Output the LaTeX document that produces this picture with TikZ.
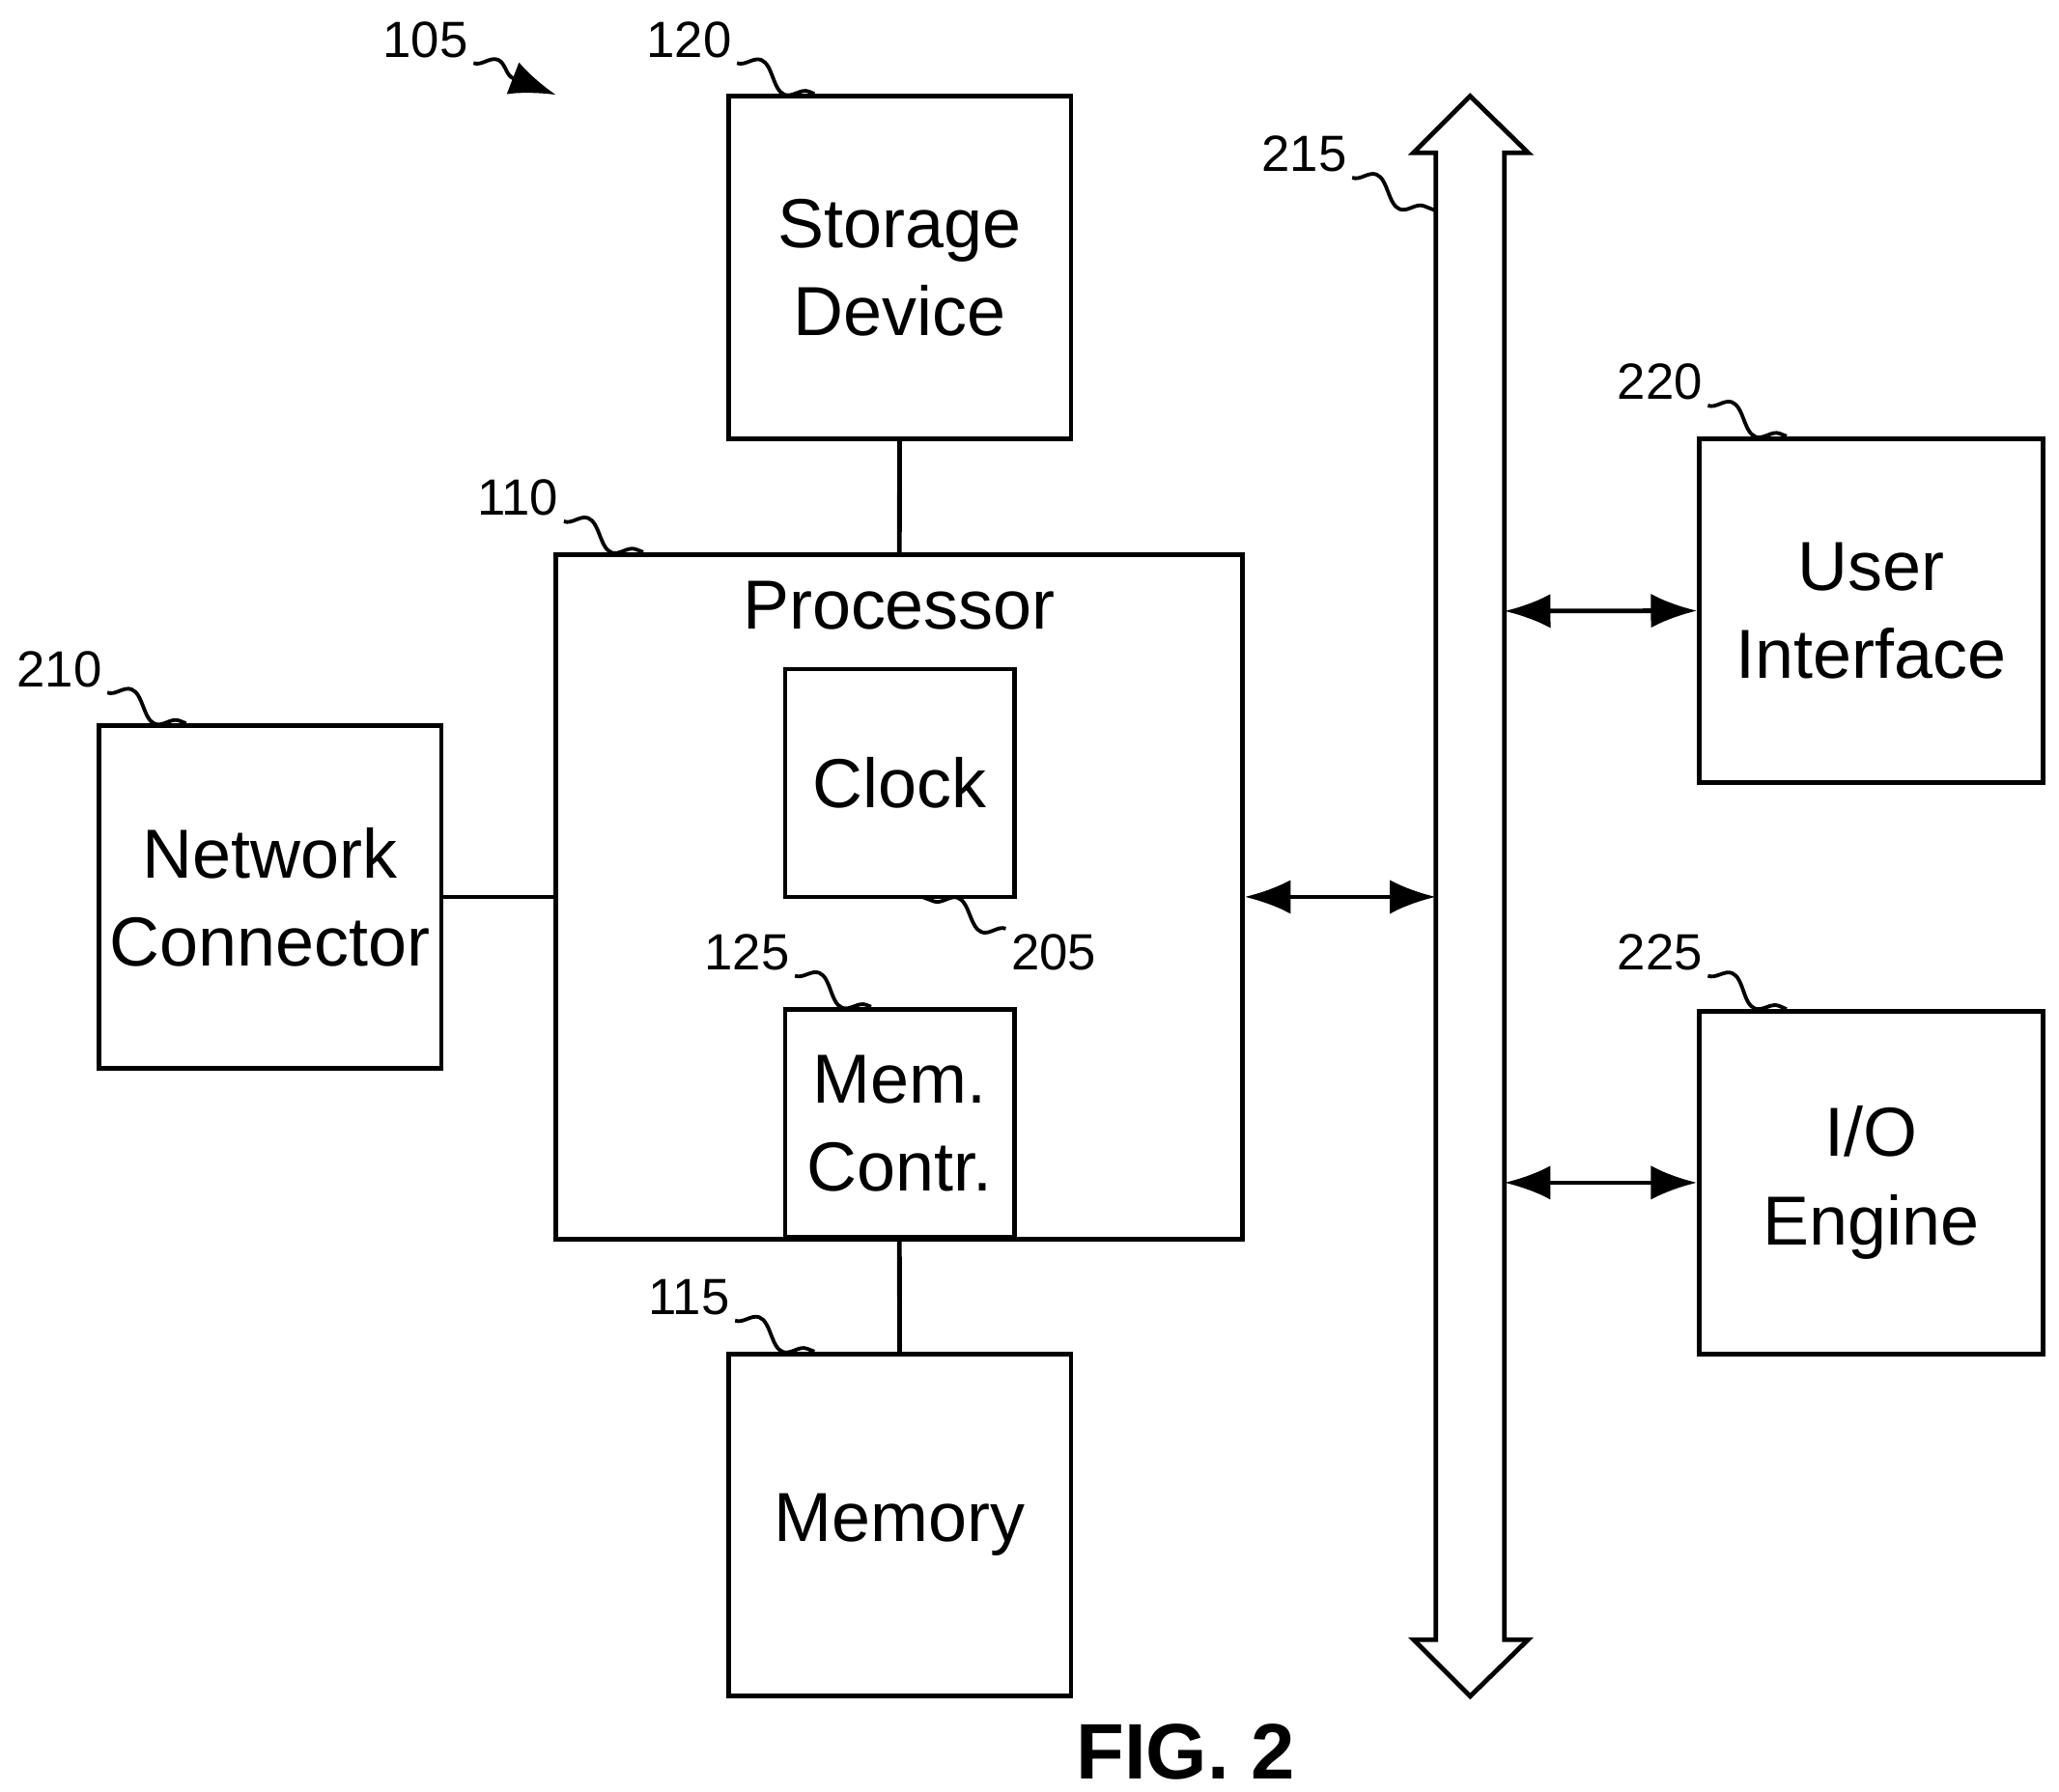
\documentclass[tikz,border=0pt]{standalone}
\usepackage{fontspec}
\setmainfont{Liberation Sans}
\usetikzlibrary{positioning, arrows.meta, calc, decorations.pathmorphing}
\tikzset{
  block/.style={draw, line width=1pt, align=center, inner sep=1pt, font=\fontsize{15}{19}\selectfont},
  refnum/.style={font=\fontsize{11}{13}\selectfont, inner sep=1pt},
  lead/.style={line width=0.8pt, decorate, decoration={snake, amplitude=0.9mm, segment length=5.2mm}},
  link/.style={line width=1pt},
  dlink/.style={line width=1pt, {Latex[length=3.5mm,width=2.6mm]}-{Latex[length=3.5mm,width=2.6mm]}}
}
\begin{document}
\begin{tikzpicture}
\useasboundingbox (0,0) rectangle (15.63,-13.6);

% main blocks
\node (proc) [block, minimum width=5.21cm, minimum height=5.2cm] at (6.825,-6.81) {};
\node (procTitle) [font=\fontsize{15}{19}\selectfont, below=0.1cm of proc.north] {Processor};
\node (storage) [block, minimum width=2.6cm, minimum height=2.6cm] at (6.83,-2.03) {Storage\\Device};
\node (clock) [block, minimum width=1.74cm, minimum height=1.73cm] at (6.83,-5.945) {Clock};
\node (memctl) [block, minimum width=1.74cm, minimum height=1.73cm, anchor=south] at (6.83,-9.41) {Mem.\\Contr.};
\node (memory) [block, minimum width=2.6cm, minimum height=2.6cm] at (6.83,-11.58) {Memory};
\node (net) [block, minimum width=2.6cm, minimum height=2.6cm] at (2.05,-6.81) {Network\\Connector};
\node (ui) [block, minimum width=2.61cm, minimum height=2.61cm] at (14.205,-4.635) {User\\Interface};
\node (io) [block, minimum width=2.61cm, minimum height=2.6cm] at (14.205,-8.98) {I/O\\Engine};

% bus
\coordinate (busTop) at (11.16,-0.73);
\coordinate (busBot) at (11.16,-12.88);
\coordinate (busL) at (10.90,-6.81);
\coordinate (busUi) at (11.42,-4.64);
\coordinate (busIo) at (11.42,-8.98);
\draw[line width=1pt] (busTop) -- (11.60,-1.16) -- (11.42,-1.16) -- (11.42,-12.45) -- (11.60,-12.45)
  -- (busBot) -- (10.73,-12.45) -- (10.90,-12.45) -- (10.90,-1.16) -- (10.73,-1.16) -- cycle;

% connectors
\draw[link] (storage) -- (proc);
\draw[link] (proc) -- (memory);
\draw[link] (net) -- (proc);
\draw[dlink] (proc.east) -- (busL);
\draw[dlink] (busUi) -- (ui);
\draw[dlink] (busIo) -- (io);

% reference numerals
\node (n105) [refnum] at (3.23,-0.30) {105};
\node (n120) [refnum] at (5.23,-0.30) {120};
\node (n215) [refnum] at (9.90,-1.17) {215};
\node (n220) [refnum] at (12.60,-2.90) {220};
\node (n110) [refnum] at (3.93,-3.78) {110};
\node (n210) [refnum] at (0.45,-5.08) {210};
\node (n205) [refnum] at (8.00,-7.23) {205};
\node (n125) [refnum] at (5.67,-7.23) {125};
\node (n225) [refnum] at (12.60,-7.23) {225};
\node (n115) [refnum] at (5.23,-9.85) {115};
\node (fig) [font=\bfseries\fontsize{17}{20}\selectfont] at (9.00,-13.30) {FIG. 2};

\coordinate (c105) at (4.22,-0.72);
\coordinate (c205) at (7.00,-6.81);
\draw[lead, decoration={post length=2.5mm}, -{Latex[length=3.5mm,width=2.6mm]}] (n105.south east) -- (c105);
\draw[lead] (n120.south east) -- ($(storage.north west)+(0.67,0)$);
\draw[lead] (n215.south east) -- (10.90,-1.60);
\draw[lead] (n220.south east) -- ($(ui.north west)+(0.68,0)$);
\draw[lead] (n110.south east) -- ($(proc.north west)+(0.68,0)$);
\draw[lead] (n210.south east) -- ($(net.north west)+(0.68,0)$);
\draw[lead] (n205.north west) -- (c205);
\draw[lead] (n125.south east) -- ($(memctl.north west)+(0.67,0)$);
\draw[lead] (n225.south east) -- ($(io.north west)+(0.68,0)$);
\draw[lead] (n115.south east) -- ($(memory.north west)+(0.67,0)$);
\end{tikzpicture}
\end{document}
